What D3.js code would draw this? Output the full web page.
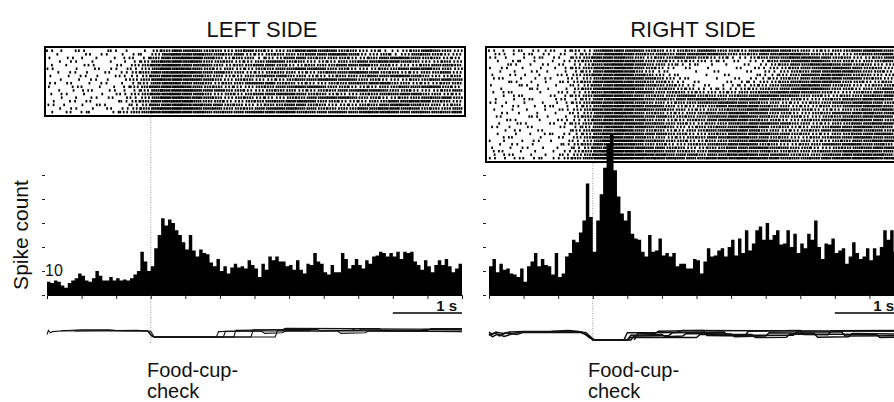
<!DOCTYPE html>
<html>
<head>
<meta charset="utf-8">
<script src="https://cdn.jsdelivr.net/npm/d3@7"></script>
<style>
  body { margin: 0; background: #fff; }
  svg { display: block; }
  text { font-family: "Liberation Sans", Arial, sans-serif; fill: #111; }
</style>
</head>
<body>
<div id="chart"></div>
<script>
// panel titles and labels
var titles = ["LEFT SIDE", "RIGHT SIDE"];
var yLabel = "Spike count";
var eventLabel = ["Food-cup-", "check"];
var scaleLabel = "1 s";

// time axis (s), event at 0, bins of 50 ms
var timeRange = [-1.5, 4.5];
var binWidth = 0.05;
var xTicks = [-1, -0.5, 0, 0.5, 1, 1.5, 2, 2.5, 3, 3.5, 4];
var yTicks = [0, 10, 20, 30, 40, 50];
var yTickLabels = ["", "10", "", "", "", ""];
var scaleBar = [3.5, 4.5];

// PSTH counts per bin
var leftCounts = [
  5.5, 5, 6, 5.5, 4, 3, 5, 6, 7, 9,
  8, 6, 5.5, 7, 10, 8, 6, 6, 7.5, 6,
  7, 6, 6.5, 6, 7, 8.5, 10, 18, 14, 10,
  12, 19.5, 25, 32, 29, 31.5, 30, 27, 25, 22,
  19, 25, 18.5, 16, 19, 17.5, 17, 13.5, 12, 15,
  10, 12, 9, 11.5, 13, 11.5, 12, 11, 14.5, 12.5,
  11, 7.5, 13, 10.5, 16, 14.5, 16, 14, 14, 12,
  12.5, 10.5, 14.5, 10.5, 9, 13, 12.5, 17.5, 14, 13,
  9.5, 8.5, 12.5, 9.5, 9.5, 17.5, 15, 11, 12.5, 15,
  12.5, 11, 14.5, 13, 16, 16.5, 18, 17.5, 16, 17.5,
  16, 18, 15, 18, 17.5, 18, 14, 12.5, 10.5, 14.5,
  12, 9.5, 12.5, 14.5, 12.5, 15, 12, 9.5, 11, 13
];
var rightCounts = [
  12, 15, 9.5, 13, 10.5, 11, 9, 8.5, 7.5, 11,
  5.5, 12, 14, 17.5, 12, 15, 12.5, 12, 8.5, 17.5,
  7.5, 9, 16, 17.5, 23, 22, 26, 31, 46.5, 32.5,
  18, 31, 42, 53, 63, 67, 52, 41, 34, 31,
  35, 25.5, 23.5, 23, 18, 16, 25, 18, 18.5, 23.5,
  16.5, 17.5, 16, 17.5, 12, 13, 13, 11, 11, 15,
  14.5, 9, 14, 19.5, 16, 16.5, 18.5, 19.5, 16, 20,
  23, 16.5, 23.5, 17.5, 27, 18.5, 21.5, 27, 28.5, 23,
  30, 23, 25, 27, 21, 21.5, 27, 20, 25.5, 17.5,
  21.5, 19.5, 25.5, 23, 31, 20, 15, 21.5, 21, 23.5,
  17.5, 18.5, 19.5, 13, 16, 22, 17.5, 15, 16, 19.5,
  14.5, 19.5, 16.5, 20, 27, 23, 27, 18, 20, 16
];

// raster: one string per trial, each digit = spikes in a 150 ms cell
var rasterCell = 0.15;
var leftRaster = [
  "2112012101346554434543346655443322346543",
  "0101120121357665545334444556653342355433",
  "1021101212466775434423355444433456654433",
  "0120101123567664443345544333445566543343",
  "1101201134677655434455433444556443334554",
  "2010112123576654343344556554433344566443",
  "0121011234667765544334443345566544334453",
  "1012101223577654433455544333444556654334",
  "0101210134667665434433345566554433344565",
  "2110120123566554344556443334455664433344",
  "1021011234677654433344556654433344556643",
  "0112102123567765544334443344556654433345",
  "1201011234667654343455665443334455664433",
  "0110211123577665434433344556654433445564",
  "1021101234667754433445566544333445566443",
  "2101120123567665544334455443334456654434",
  "0120111234678765544455665544445566554445",
  "1112102345678765555566665555556666555556"
];
var rightRaster = [
  "2121221232566554434455443565544334456654",
  "1212121123577654545566544455665443345566",
  "2101212134666543445543322345566554433455",
  "1021101234677654433332211224556654434455",
  "0120121123567754432211101123455665544334",
  "1201011234667654321101011123345566554433",
  "0110210123577643210101101112344556654434",
  "1021101234667754321010110122345566544334",
  "2101120123567665432101011223445566554433",
  "0120111234677654432110112233455665443344",
  "1012101123567765443211122334556654433445",
  "0101210134677654443322223344556654434455",
  "1210101223567665444333334455665543344556",
  "0121011234677654445544445566554433445566",
  "1012102123567765545566556655443344556655",
  "2101011234667654434455665544333445566544",
  "0120121123577665543344556654433344556654",
  "1011011234667765544334455665544333445566",
  "0210101123567654433445566554433445566554",
  "1101210134677665544445566554443344556654",
  "0120101223566654433445566544334455665544",
  "1012011234677765544334455665544334455665",
  "2101101123567665543344556654433445566554",
  "0120110134667654433445566544334455665543",
  "1011021223577665544334455665544334455664",
  "0210101134667654433445566554433445566554",
  "1101210123577765544334455665544334455665",
  "0120101234667654433445566544334455665544",
  "1012011123567665544334455665544334455664",
  "2101101234678765554445566554444455665554",
  "1210111234689876655545566655544455666655",
  "2121212345789876665556667766555566677665"
];

// movement traces: [time, level] with 0 = down (food cup), 1 = resting
var leftTraces = [
  [[-1.5,0.4],[-1.48,1.1],[-1.45,0.7],[-1.42,0.9],[-1.3,1],[-0.8,1.05],[-0.05,1],[0.02,0.1],[0.06,0],[0.95,0],[0.98,0.9],[1.3,1],[4.5,1]],
  [[-1.3,1.05],[-1.0,1.2],[-0.6,1.2],[-0.45,1.05],[-0.04,1],[0.04,0],[1.45,0],[1.48,1.2],[2.4,1.3],[2.45,1.05],[3.0,1.1],[3.05,1.35],[4.5,1.3]],
  [[-1.1,1],[-0.2,1.1],[0.0,0.95],[0.05,0],[1.8,0],[1.83,1.05],[2.3,1.1],[2.35,1.4],[3.3,1.4],[3.35,1.0],[3.9,1.0],[3.95,1.3],[4.5,1.2]],
  [[0.05,0],[1.2,0],[1.23,1.1],[1.9,1.2],[1.95,1.45],[2.9,1.4],[2.95,1.15],[4.0,1.1],[4.05,1.4],[4.5,1.4]],
  [[0.05,0],[1.05,0],[1.08,0.95],[1.6,0.95],[1.65,0.6],[1.9,0.7],[1.95,1.0],[2.7,1.0],[2.75,0.6],[3.1,0.7],[3.15,1.0],[4.5,0.9]]
];
var rightTraces = [
  [[-1.5,1],[-1.45,0.7],[-1.4,1],[-1.3,0.8],[-1.2,1],[-1.0,1.05],[-0.6,1.1],[-0.35,1.2],[-0.2,1.05],[-0.08,0.6],[0.0,0],[0.45,0],[0.5,0.9],[1.2,0.95],[1.3,1.2],[2.5,1.15],[4.5,1.1]],
  [[-1.5,0.6],[-1.42,0.9],[-1.35,0.5],[-1.25,0.9],[-1.1,0.7],[-1.0,0.95],[-0.1,0.95],[0.02,0],[0.5,0],[0.55,0.6],[1.0,0.7],[1.05,0.4],[1.3,0.5],[1.35,0.8],[2.0,0.75],[2.05,0.4],[2.5,0.5],[2.55,0.9],[3.2,0.85],[3.25,0.35],[3.7,0.4],[3.75,0.8],[4.5,0.75]],
  [[-1.5,0.8],[-1.45,0.4],[-1.38,0.75],[-1.28,0.45],[-1.15,0.8],[-1.05,1],[-0.5,1],[-0.4,1.1],[-0.15,1],[-0.05,0.3],[0.03,0],[0.55,0],[0.6,0.5],[1.1,0.55],[1.15,0.9],[1.9,1.0],[1.95,0.6],[2.9,0.6],[2.95,1.0],[3.6,1.0],[3.65,0.5],[4.5,0.55]],
  [[0.6,0],[0.65,0.8],[0.9,0.8],[0.95,1.1],[1.6,1.2],[1.65,0.55],[2.2,0.5],[2.25,1.1],[3.0,1.2],[3.05,0.7],[3.4,0.65],[3.45,1.15],[4.5,1.2]],
  [[0.5,0],[0.55,0.35],[1.5,0.3],[1.55,0.7],[2.3,0.7],[2.35,0.3],[2.8,0.35],[2.85,0.75],[4.1,0.7],[4.15,0.3],[4.5,0.35]]
];

var w = 894;
var h = 402;

var svg = d3.select("#chart")
            .append("svg")
            .attr("width", w)
            .attr("height", h);

svg.append("rect")
   .attr("width", w)
   .attr("height", h)
   .attr("fill", "#fff");

// layout of the two panels
var panels = [
  {title: titles[0], titleX: 262, counts: leftCounts, raster: leftRaster, traces: leftTraces,
   x0: 47, x1: 462, boxX0: 45, boxX1: 465, boxTop: 47, boxBottom: 116,
   tickX: 42, traceY: [337, 331], traceW: 1.1, labelX: 147, scaleTextX: 457, showYLabel: true},
  {title: titles[1], titleX: 693, counts: rightCounts, raster: rightRaster, traces: rightTraces,
   x0: 489, x1: 904, boxX0: 486, boxX1: 916, boxTop: 47, boxBottom: 162,
   tickX: 483, traceY: [340, 332], traceW: 1.5, labelX: 588, scaleTextX: 894, showYLabel: false}
];

var baseY = 295;
var y = d3.scaleLinear().domain([0, 50]).range([baseY, baseY - 120]);

panels.forEach(function(p) {
  var x = d3.scaleLinear().domain(timeRange).range([p.x0, p.x1]);
  var g = svg.append("g");

  // title
  g.append("text")
   .attr("x", p.titleX)
   .attr("y", 37)
   .attr("text-anchor", "middle")
   .attr("font-size", "22px")
   .text(p.title);

  // raster ticks, offset a little per row so cells don't line up in columns
  var rows = d3.scaleBand()
               .domain(d3.range(p.raster.length))
               .range([p.boxTop + 2, p.boxBottom - 2]);
  var spikes = [];
  p.raster.forEach(function(row, r) {
    row.split("").forEach(function(ch, c) {
      var n = +ch;
      var t0 = timeRange[0] + c * rasterCell;
      var phase = (r * 0.618 + c * 0.382) % 1;
      for (var k = 0; k < n; k++) {
        spikes.push({row: r, t: t0 + (k + phase) * rasterCell / n});
      }
    });
  });
  g.append("g")
   .selectAll("rect")
   .data(spikes)
   .enter()
   .append("rect")
   .attr("x", function(d) { return x(d.t) - 0.9; })
   .attr("y", function(d) { return rows(d.row) + rows.bandwidth() * 0.12; })
   .attr("width", 1.8)
   .attr("height", rows.bandwidth() * 0.7)
   .attr("fill", "#000");

  // raster frame
  g.append("rect")
   .attr("x", p.boxX0)
   .attr("y", p.boxTop)
   .attr("width", p.boxX1 - p.boxX0)
   .attr("height", p.boxBottom - p.boxTop)
   .attr("fill", "none")
   .attr("stroke", "#000")
   .attr("stroke-width", 2);

  // event line
  g.append("line")
   .attr("x1", x(0)).attr("x2", x(0))
   .attr("y1", p.boxBottom + 1).attr("y2", 343)
   .attr("stroke", "#999")
   .attr("stroke-width", 1)
   .attr("stroke-dasharray", "1,1.5");

  // histogram as a stepped area
  var steps = p.counts.map(function(d, i) { return [timeRange[0] + i * binWidth, d]; });
  steps.push([timeRange[0] + p.counts.length * binWidth, p.counts[p.counts.length - 1]]);
  var area = d3.area()
               .curve(d3.curveStepAfter)
               .x(function(d) { return x(d[0]); })
               .y0(baseY)
               .y1(function(d) { return y(d[1]); });
  g.append("path")
   .datum(steps)
   .attr("d", area)
   .attr("fill", "#000");

  // x axis ticks
  var xAxis = d3.axisBottom(x)
                .tickValues(xTicks)
                .tickSize(4)
                .tickFormat("");
  var xg = g.append("g")
            .attr("transform", "translate(0," + baseY + ")")
            .call(xAxis);
  xg.select(".domain").attr("stroke", "#000");
  xg.selectAll(".tick line").attr("stroke", "#222");

  // y axis ticks (no line)
  var yAxis = d3.axisLeft(y)
                .tickValues(yTicks)
                .tickSize(3)
                .tickFormat(function(d, i) { return p.showYLabel ? yTickLabels[i] : ""; });
  var yg = g.append("g")
            .attr("transform", "translate(" + (p.tickX + 3) + ",0)")
            .call(yAxis);
  yg.select(".domain").remove();
  yg.selectAll(".tick line").attr("stroke", "#222");
  yg.selectAll(".tick text")
    .attr("x", 0)
    .attr("dy", "0.25em")
    .attr("text-anchor", "start")
    .attr("font-size", "16px")
    .attr("font-family", "Liberation Sans, Arial, sans-serif")
    .attr("fill", "#111");

  // 1 s scale bar
  g.append("line")
   .attr("x1", x(scaleBar[0])).attr("x2", x(scaleBar[1]))
   .attr("y1", 313).attr("y2", 313)
   .attr("stroke", "#000")
   .attr("stroke-width", 1.6);
  g.append("text")
   .attr("x", p.scaleTextX)
   .attr("y", 311)
   .attr("text-anchor", "end")
   .attr("font-family", "Liberation Serif, Times New Roman, serif")
   .attr("font-weight", "bold")
   .attr("font-size", "15px")
   .text(scaleLabel);

  // movement traces
  var ty = d3.scaleLinear().domain([0, 1]).range(p.traceY);
  var line = d3.line()
               .x(function(d) { return x(d[0]); })
               .y(function(d) { return ty(d[1]); });
  g.append("g")
   .selectAll("path")
   .data(p.traces)
   .enter()
   .append("path")
   .attr("d", line)
   .attr("fill", "none")
   .attr("stroke", "#111")
   .attr("stroke-width", p.traceW);

  // event label
  g.append("text")
   .attr("x", p.labelX)
   .attr("y", 377)
   .attr("font-size", "20px")
   .text(eventLabel[0]);
  g.append("text")
   .attr("x", p.labelX)
   .attr("y", 398)
   .attr("font-size", "20px")
   .text(eventLabel[1]);
});

// y axis title
svg.append("text")
   .attr("transform", "translate(28,235) rotate(-90)")
   .attr("text-anchor", "middle")
   .attr("font-size", "21px")
   .text(yLabel);
</script>
</body>
</html>
